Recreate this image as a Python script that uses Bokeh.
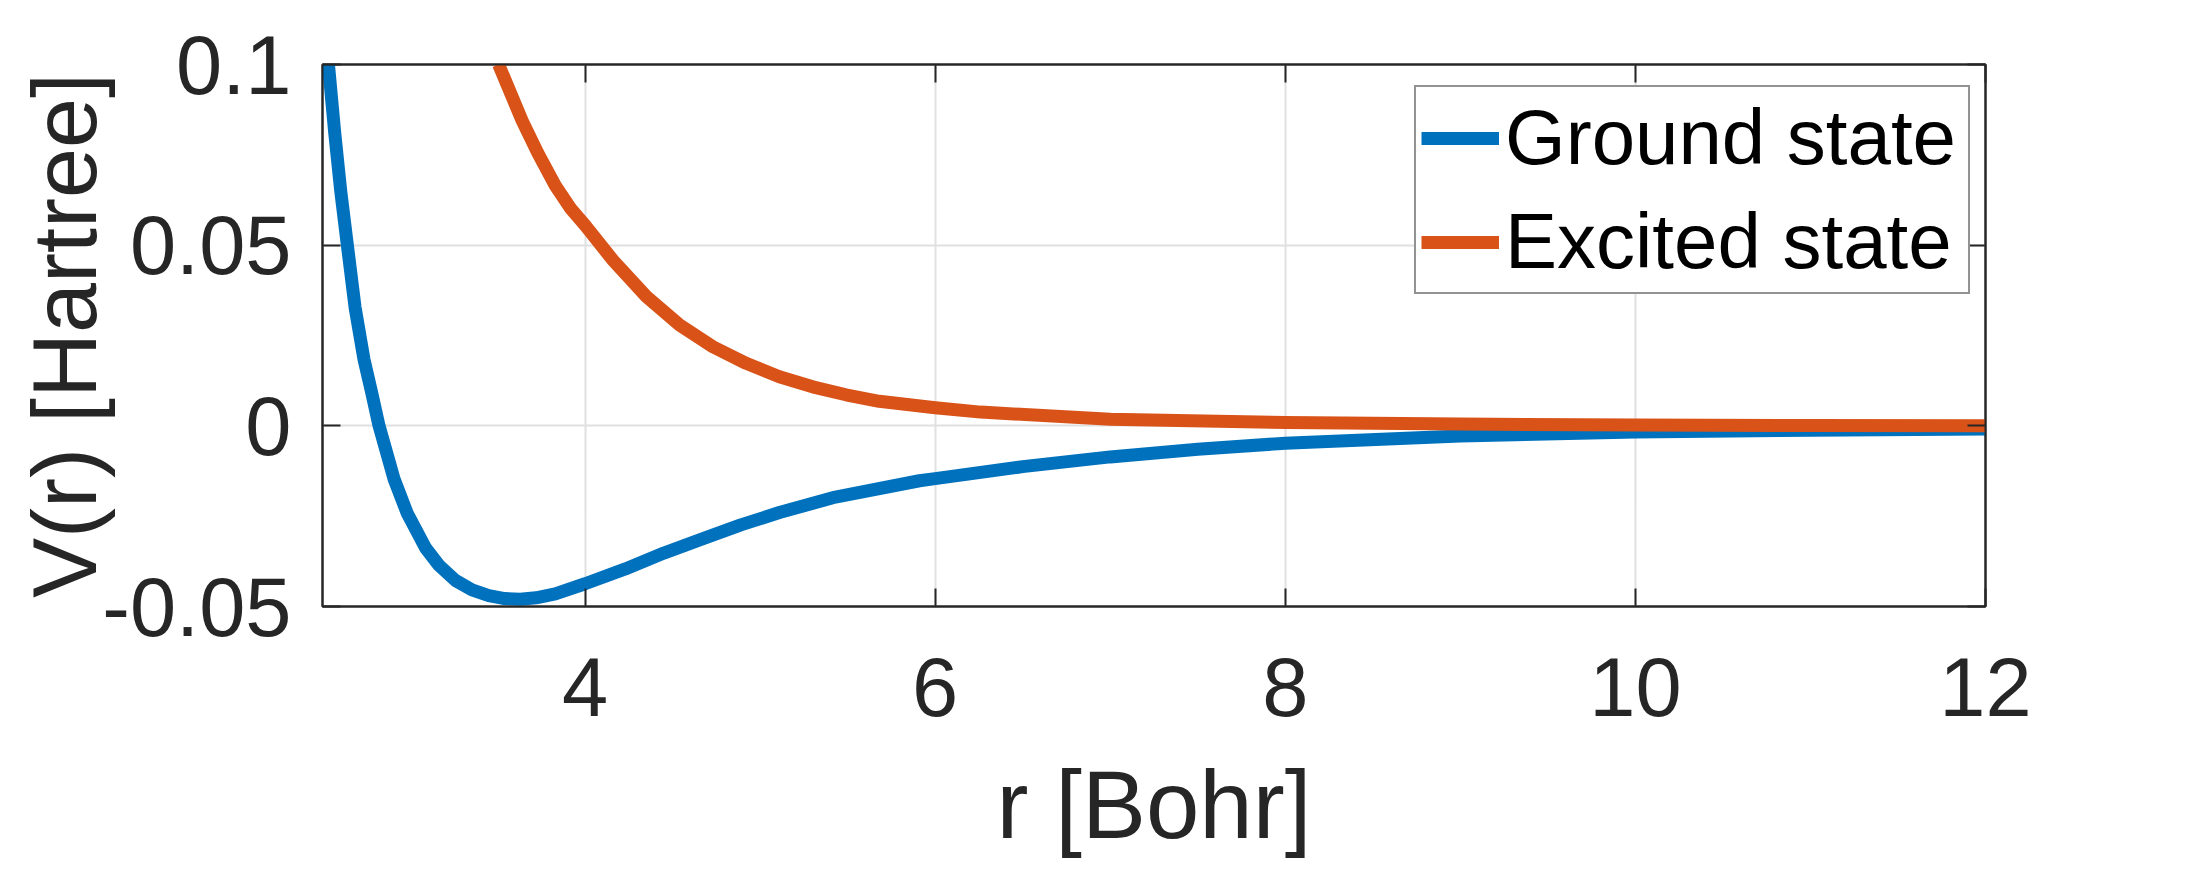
from bokeh.plotting import figure
from bokeh.models import Range1d, LinearAxis, FixedTicker, Legend, LegendItem, CustomJSTickFormatter
from bokeh.embed import file_html
from bokeh.resources import INLINE

# ---- data ----
ground_r = [2.50, 2.534, 2.570, 2.605, 2.642, 2.686, 2.737, 2.780, 2.823, 2.908, 2.984,
            3.089, 3.165, 3.260, 3.354, 3.450, 3.540, 3.630, 3.720, 3.830, 4.000, 4.230,
            4.450, 4.670, 4.890, 5.110, 5.430, 5.910, 6.000, 6.500, 7.000, 7.500, 8.000,
            9.000, 10.000, 11.000, 12.000]
ground_V = [0.120, 0.100, 0.081, 0.0646, 0.050, 0.0328, 0.0184, 0.0094, 0.000, -0.0146,
            -0.0242, -0.0338, -0.0386, -0.0428, -0.0454, -0.0470, -0.0478, -0.0480, -0.0476,
            -0.0465, -0.0437, -0.0396, -0.0352, -0.0313, -0.0274, -0.0240, -0.0197, -0.0152,
            -0.0146, -0.0113, -0.0086, -0.0065, -0.0048, -0.0028, -0.0017, -0.0012, -0.0009]
excited_r = [3.506, 3.640, 3.730, 3.830, 3.920, 4.000, 4.160, 4.350, 4.540, 4.730, 4.920,
             5.110, 5.300, 5.490, 5.680, 6.000, 6.260, 7.000, 8.000, 9.000, 10.000, 11.000,
             12.000]
excited_V = [0.100, 0.0845, 0.0755, 0.0665, 0.0600, 0.0555, 0.0458, 0.0358, 0.0279, 0.0219,
             0.0173, 0.0136, 0.0108, 0.0086, 0.0068, 0.0050, 0.0038, 0.0018, 0.0009, 0.0005,
             0.0002, 0.0001, 0.0000]

x_ticks = [4, 6, 8, 10, 12]
y_ticks = [-0.05, 0, 0.05, 0.1]
y_tick_labels = {-0.05: "-0.05", 0: "0", 0.05: "0.05", 0.1: "0.1"}
series_names = ["Ground state", "Excited state"]
series_colors = ["#0072BD", "#D95319"]

FONT = "Liberation Sans"
DARK = "#262626"
TICK_FS = "83px"

p = figure(width=2179, height=860, output_backend="svg", toolbar_location=None,
           x_range=Range1d(2.5, 12), y_range=Range1d(-0.05, 0.1),
           min_border_left=322, min_border_right=194, min_border_top=64,
           min_border_bottom=254, background_fill_color="white",
           border_fill_color="white")

p.outline_line_color = DARK
p.outline_line_width = 2

r1 = p.line(ground_r, ground_V, line_color=series_colors[0], line_width=13,
            line_join="round")
r2 = p.line(excited_r, excited_V, line_color=series_colors[1], line_width=13,
            line_join="round")

# axes
xa = p.xaxis[0]
ya = p.yaxis[0]
xa.ticker = FixedTicker(ticks=x_ticks)
ya.ticker = FixedTicker(ticks=y_ticks)
ya.major_label_overrides = y_tick_labels
xa.axis_label = "r [Bohr]"
ya.axis_label = "V(r) [Hartree]"
for ax in (xa, ya):
    ax.axis_line_color = DARK
    ax.axis_line_width = 2
    ax.major_tick_line_color = DARK
    ax.major_tick_line_width = 2
    ax.major_tick_in = 18
    ax.major_tick_out = 0
    ax.minor_tick_line_color = None
    ax.major_label_text_font = FONT
    ax.major_label_text_font_size = TICK_FS
    ax.major_label_text_color = DARK
    ax.axis_label_text_font = FONT
    ax.axis_label_text_font_style = "normal"
    ax.axis_label_text_color = DARK
xa.axis_label_text_font_size = "96px"
ya.axis_label_text_font_size = "90px"
xa.major_label_standoff = 51
xa.axis_label_standoff = 32
ya.major_label_standoff = 31
ya.axis_label_standoff = -16

# mirrored ticks on top / right (no labels)
blank = CustomJSTickFormatter(code="return ''")
for loc, ticks in (("above", x_ticks), ("right", y_ticks)):
    ax = LinearAxis(ticker=FixedTicker(ticks=ticks), formatter=blank,
                    axis_line_color=DARK, axis_line_width=2, major_tick_line_color=DARK,
                    major_tick_line_width=2, major_tick_in=18, major_tick_out=0,
                    minor_tick_line_color=None, major_label_standoff=0)
    p.add_layout(ax, loc)

# grid
p.xgrid.ticker = FixedTicker(ticks=x_ticks)
p.ygrid.ticker = FixedTicker(ticks=y_ticks)
for g in (p.xgrid[0], p.ygrid[0]):
    g.grid_line_color = "#e0e0e0"
    g.grid_line_width = 2

legend = Legend(items=[LegendItem(label=series_names[0], renderers=[r1]),
                       LegendItem(label=series_names[1], renderers=[r2])],
                location=(1092, 312), orientation="vertical",
                label_text_font=FONT, label_text_font_size="78px", label_text_color="black",
                glyph_width=78, glyph_height=60, label_height=90, label_width=458,
                label_standoff=6, spacing=13, padding=5, margin=0,
                border_line_color=DARK, border_line_width=2,
                background_fill_color="white", background_fill_alpha=1.0)
p.add_layout(legend, "center")

open("out.html", "w").write(file_html(p, INLINE))
